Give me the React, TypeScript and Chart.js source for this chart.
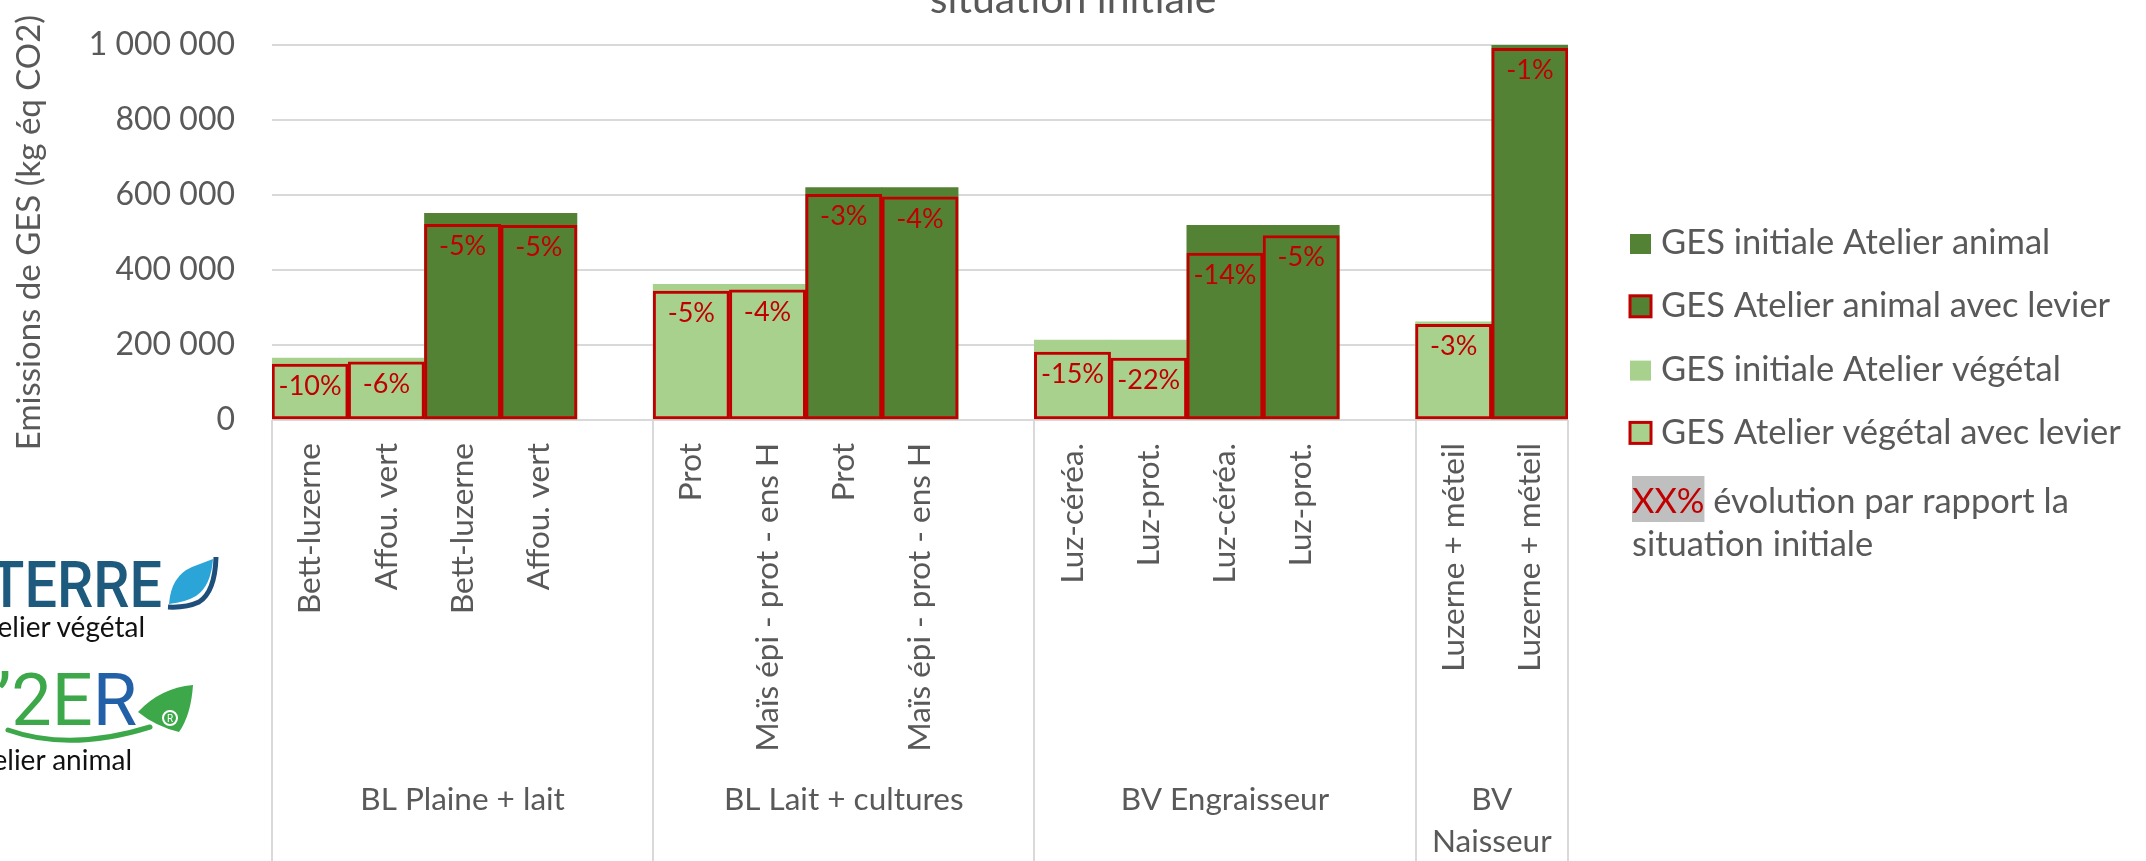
import React, { useEffect, useRef } from "react";
import { Chart, registerables } from "chart.js";

Chart.register(...registerables);

// ---------- data ----------
const categories: string[] = [
  "Bett-luzerne", "Affou. vert", "Bett-luzerne", "Affou. vert", "",
  "Prot", "Maïs épi - prot - ens H", "Prot", "Maïs épi - prot - ens H", "",
  "Luz-céréa.", "Luz-prot.", "Luz-céréa.", "Luz-prot.", "",
  "Luzerne + méteil", "Luzerne + méteil",
];
const groupLabels: string[][] = [["BL Plaine + lait"], ["BL Lait + cultures"], ["BV Engraisseur"], ["BV", "Naisseur"]];
const groupSizes: number[] = [5, 5, 5, 2];

const seriesNames: string[] = [
  "GES initiale Atelier animal",
  "GES Atelier animal avec levier",
  "GES initiale Atelier végétal",
  "GES Atelier végétal avec levier",
];

const initialAnimal: (number | null)[] = [null, null, 551000, 551000, null, null, null, 620000, 620000, null, null, null, 519000, 519000, null, null, 1000000];
const levierAnimal: (number | null)[] = [null, null, 522000, 519000, null, null, null, 602000, 595000, null, null, null, 445000, 492000, null, null, 991000];
const initialVegetal: (number | null)[] = [165000, 165000, null, null, null, 362000, 362000, null, null, null, 213000, 213000, null, null, null, 262000, null];
const levierVegetal: (number | null)[] = [149000, 155000, null, null, null, 344000, 347000, null, null, null, 181000, 165000, null, null, null, 255000, null];
const evolutionLabels: string[] = ["-10%", "-6%", "-5%", "-5%", "", "-5%", "-4%", "-3%", "-4%", "", "-15%", "-22%", "-14%", "-5%", "", "-3%", "-1%"];

const yMin = 0;
const yMax = 1000000;
const yStep = 200000;

const titleText = "situation initiale";
const yAxisTitle = "Emissions de GES (kg éq CO2)";
const noteHighlight = "XX%";
const noteLines: string[] = [" évolution par rapport la", "situation initiale"];

// ---------- styles ----------
const DARK = "#548235";
const LIGHT = "#A9D18E";
const RED = "#C00000";
const GRID = "#D9D9D9";
const TEXT = "#595959";
const FONT = "Lato";

const fmt = (v: number) => String(Math.round(v)).replace(/\B(?=(\d{3})+(?!\d))/g, " ");

const decorPlugin = {
  id: "decor",
  afterDatasetsDraw(chart: any) {
    const ctx = chart.ctx;
    ctx.save();
    ctx.font = `27px ${FONT}`;
    ctx.fillStyle = RED;
    ctx.textAlign = "center";
    ctx.textBaseline = "middle";
    [0, 1].forEach((d) => {
      const meta = chart.getDatasetMeta(d);
      const data = chart.data.datasets[d].data;
      meta.data.forEach((bar: any, i: number) => {
        if (data[i] == null || !evolutionLabels[i]) return;
        ctx.fillText(evolutionLabels[i], bar.x, bar.y + 22);
      });
    });
    ctx.restore();
  },
  afterDraw(chart: any) {
    const ctx = chart.ctx;
    const xs = chart.scales.x;
    const area = chart.chartArea;
    const slot = xs.width / categories.length;
    ctx.save();
    // group separators + group labels
    ctx.strokeStyle = GRID;
    ctx.lineWidth = 2;
    let start = 0;
    const bounds: number[] = [];
    groupSizes.forEach((n) => {
      bounds.push(xs.getPixelForValue(start) - slot / 2);
      start += n;
    });
    bounds.push(xs.getPixelForValue(start - 1) + slot / 2);
    bounds.forEach((bx) => {
      ctx.beginPath();
      ctx.moveTo(Math.round(bx), area.bottom);
      ctx.lineTo(Math.round(bx), chart.height);
      ctx.stroke();
    });
    ctx.fillStyle = TEXT;
    ctx.font = `31.5px ${FONT}`;
    ctx.textAlign = "center";
    ctx.textBaseline = "alphabetic";
    groupLabels.forEach((lines, g) => {
      const cx = (bounds[g] + bounds[g + 1]) / 2;
      lines.forEach((ln, k) => ctx.fillText(ln, cx, 810 + k * 42));
    });

    // title (cut at top)
    ctx.font = `41px ${FONT}`;
    ctx.fillText(titleText, chart.width / 2, 13);

    // legend
    const lx = area.right + 62;
    ctx.font = `34.5px ${FONT}`;
    ctx.textAlign = "left";
    const fills = [DARK, DARK, LIGHT, LIGHT];
    const bordered = [false, true, false, true];
    seriesNames.forEach((name, i) => {
      const base = 254 + 63.3 * i;
      if (bordered[i]) {
        ctx.fillStyle = RED;
        ctx.fillRect(lx - 1.5, base - 23, 24, 24);
        ctx.fillStyle = fills[i];
        ctx.fillRect(lx + 1.5, base - 20, 18, 18);
      } else {
        ctx.fillStyle = fills[i];
        ctx.fillRect(lx, base - 20, 21, 20);
      }
      ctx.fillStyle = TEXT;
      ctx.fillText(name, lx + 31, base);
    });
    // note
    const nb = 513;
    const hw = ctx.measureText(noteHighlight).width;
    ctx.fillStyle = "#BFBFBF";
    ctx.fillRect(lx + 2, nb - 37, hw, 46);
    ctx.fillStyle = RED;
    ctx.fillText(noteHighlight, lx + 2, nb);
    ctx.fillStyle = TEXT;
    ctx.fillText(noteLines[0], lx + 2 + hw, nb);
    ctx.fillText(noteLines[1], lx + 2, nb + 43);
    ctx.restore();
  },
};

function Logos() {
  return (
    <svg width={240} height={260} style={{ position: "absolute", left: 0, top: 540 }}>
      <text x={162} y={67} textAnchor="end" fontFamily="Roboto" fontWeight={500} fontSize={64} fill="#1D5A7E"
        transform="translate(16.2 0) scale(0.9 1)">SYSTERRE</text>
      <path d="M169 64 Q171 36 192 27 L213 19 Q211 46 196 56 Q186 62 169 64 Z" fill="#2BA4D8" />
      <path d="M216 17 Q215 52 199 62 Q186 68 168 67" fill="none" stroke="#1D4F7A" strokeWidth={5} />
      <text x={145} y={97} textAnchor="end" fontFamily={FONT} fontSize={28} fill="#111">Atelier végétal</text>
      <text x={137} y={185} textAnchor="end" fontFamily="Roboto" fontSize={72}>
        <tspan fill="#3CA84A">Cap’2E</tspan><tspan fill="#2260A8">R</tspan>
      </text>
      <path d="M138 172 Q160 148 193 145 Q191 175 179 192 Q155 186 138 172 Z" fill="#3CA84A" />
      <circle cx={170} cy={178} r={7} fill="none" stroke="#fff" strokeWidth={2} />
      <text x={170} y={182} textAnchor="middle" fontFamily="Roboto" fontSize={10} fill="#fff">R</text>
      <path d="M8 190 Q70 212 150 187" fill="none" stroke="#3CA84A" strokeWidth={5} strokeLinecap="round" />
      <text x={132} y={230} textAnchor="end" fontFamily={FONT} fontSize={28} fill="#111">Atelier animal</text>
    </svg>
  );
}

export default function App() {
  const ref = useRef<HTMLCanvasElement>(null);
  useEffect(() => {
    const canvas = ref.current;
    if (!canvas) return;
    const chart = new Chart(canvas, {
      type: "bar",
      data: {
        labels: categories,
        datasets: [
          { label: seriesNames[1], data: levierAnimal, backgroundColor: DARK, borderColor: RED, borderWidth: 3, borderSkipped: false, order: 0 },
          { label: seriesNames[3], data: levierVegetal, backgroundColor: LIGHT, borderColor: RED, borderWidth: 3, borderSkipped: false, order: 0 },
          { label: seriesNames[0], data: initialAnimal, backgroundColor: DARK, borderWidth: 0, order: 1 },
          { label: seriesNames[2], data: initialVegetal, backgroundColor: LIGHT, borderWidth: 0, order: 1 },
        ],
      } as any,
      options: {
        responsive: false,
        animation: false,
        devicePixelRatio: 1,
        layout: { padding: { top: 45, right: 578, bottom: 0, left: 0 } },
        datasets: { bar: { grouped: false, barPercentage: 1, categoryPercentage: 1 } },
        plugins: { legend: { display: false }, tooltip: { enabled: false }, title: { display: false } },
        scales: {
          x: {
            grid: { display: false, drawTicks: false },
            border: { display: false },
            ticks: { autoSkip: false, maxRotation: 90, minRotation: 90, padding: 23, color: TEXT, font: { family: FONT, size: 31.5 } },
            afterFit: (s: any) => { s.height = 441; s.paddingLeft = 0; s.paddingRight = 0; },
          },
          y: {
            min: yMin,
            max: yMax,
            grid: { color: GRID, lineWidth: 2, drawTicks: false },
            border: { display: false },
            ticks: { stepSize: yStep, padding: 37, color: TEXT, font: { family: FONT, size: 32 }, callback: (v: any) => fmt(Number(v)) },
            title: { display: true, text: yAxisTitle, color: TEXT, font: { family: FONT, size: 33 }, padding: { top: 10, bottom: 0 } },
            afterFit: (s: any) => { s.width = 272; s.paddingTop = 0; s.paddingBottom = 0; },
          },
        },
      } as any,
      plugins: [decorPlugin],
    });
    return () => chart.destroy();
  }, []);
  return (
    <div style={{ position: "fixed", left: 0, top: 0, width: 2146, height: 861, overflow: "hidden", background: "#fff" }}>
      <canvas ref={ref} width={2146} height={861} style={{ display: "block", position: "absolute", left: 0, top: 0 }} />
      <Logos />
    </div>
  );
}
